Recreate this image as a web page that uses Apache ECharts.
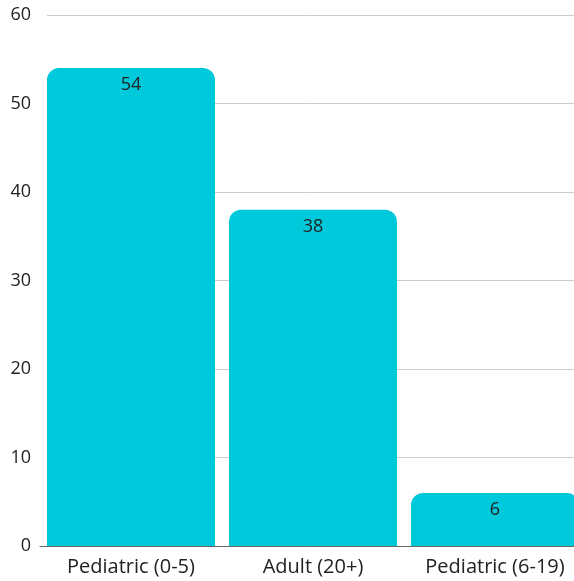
<!DOCTYPE html>
<html>
<head>
<meta charset="utf-8">
<script src="https://cdn.jsdelivr.net/npm/echarts@6/dist/echarts.min.js"></script>
<style>html,body{margin:0;padding:0;background:#fff}#c{width:574px;height:581px}</style>
</head>
<body>
<div id="c"></div>
<script>
const categories = ['Pediatric (0-5)', 'Adult (20+)', 'Pediatric (6-19)'];
const values = [54, 38, 6];
const yMin = 0, yMax = 60, yStep = 10;

const font = '"Open Sans", Lato, sans-serif';
const chart = echarts.init(document.getElementById('c'), null, {renderer: 'canvas'});
chart.setOption({
  animation: false,
  grid: [
    {left: 40, width: 546, top: 15, bottom: 35, outerBoundsMode: 'none', containLabel: false},
    {left: 47, right: 0, top: 15, bottom: 35, outerBoundsMode: 'none', containLabel: false}
  ],
  xAxis: [
    {
      type: 'category', gridIndex: 0, data: categories,
      axisLine: {show: true, lineStyle: {color: '#666', width: 1}},
      axisTick: {show: false},
      axisLabel: {color: '#222', fontSize: 20, fontFamily: font, margin: 11}
    },
    {type: 'value', gridIndex: 1, show: false, min: 0, max: 1}
  ],
  yAxis: [
    {
      type: 'value', gridIndex: 0, min: yMin, max: yMax, interval: yStep,
      axisLine: {show: false}, axisTick: {show: false},
      splitLine: {show: false},
      axisLabel: {color: '#222', fontSize: 18, fontFamily: font, margin: 9}
    },
    {
      type: 'value', gridIndex: 1, min: yMin, max: yMax, interval: yStep,
      axisLine: {show: false}, axisTick: {show: false}, axisLabel: {show: false},
      splitLine: {show: true, lineStyle: {color: '#cccccc', width: 1}}
    }
  ],
  series: [{
    type: 'bar', xAxisIndex: 0, yAxisIndex: 0,
    data: values,
    barCategoryGap: '7.7%',
    itemStyle: {color: '#00C9DB', borderRadius: [12, 12, 0, 0]},
    label: {
      show: true, position: 'insideTop', distance: 8,
      color: '#222', fontSize: 18, fontFamily: font
    },
    z: 3
  }]
});
</script>
</body>
</html>
